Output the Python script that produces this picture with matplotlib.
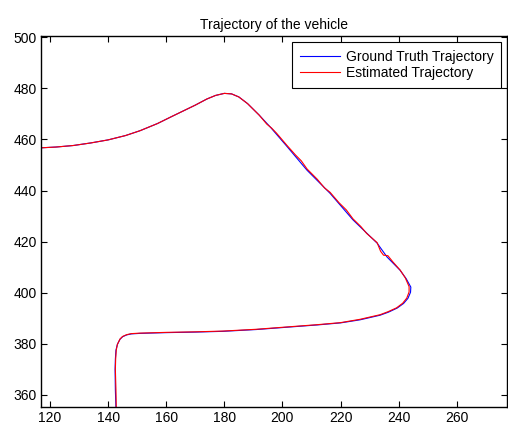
import matplotlib
matplotlib.use("Agg")
import matplotlib.pyplot as plt

plt.rcParams['font.family'] = ['Liberation Sans', 'DejaVu Sans']

# ground truth trajectory
gt_x = [116.9, 122, 128, 134, 140, 146, 151, 157, 162, 166, 170, 174, 177, 180,
        182.5, 185, 188, 192, 196, 201.6, 208.5, 216.4, 224.3, 232.6, 236, 240.5,
        242.6, 244.2, 244.1, 243.2, 241.7, 239.5, 236.5, 233.6, 226.7, 220, 212,
        202.6, 191, 179.5, 170, 160.3, 151, 148, 146.4, 145, 144.1, 143.2, 142.7,
        142.5, 142.4, 142.5, 142.7]
gt_y = [456.7, 457.0, 457.6, 458.6, 459.8, 461.5, 463.4, 466.2, 469.0, 471.2, 473.4,
        475.8, 477.2, 478.0, 477.8, 476.6, 474.0, 469.5, 464.6, 457.2, 447.9, 438.9,
        428.5, 419.4, 414.0, 408.8, 405.5, 402.2, 400.2, 397.8, 395.8, 394.0, 392.4,
        391.2, 389.4, 388.2, 387.4, 386.6, 385.6, 384.9, 384.6, 384.4, 384.1, 383.9,
        383.5, 382.8, 381.8, 379.8, 377.5, 374.0, 370.0, 362.0, 355.0]

# estimated trajectory (follows the ground truth with small wiggles on the diagonal)
est_x = [116.9, 122, 128, 134, 140, 146, 151, 157, 162, 166, 170, 174, 177, 180,
         182.5, 185, 188, 192, 194.6, 196.3, 198, 201.6, 204.5, 206.5, 208.5, 212,
         214.5, 216.4, 219.5, 222, 224.3, 227, 229, 232.6, 233.8, 234.8, 236.3, 238,
         240.5, 242.3, 243.6, 243.6, 242.8, 241.4, 239.3, 236.4, 233.6, 226.7, 220,
         212, 202.6, 191, 179.5, 170, 160.3, 151, 148, 146.4, 145, 144.1, 143.2,
         142.8, 142.6, 142.5, 142.7, 142.8]
est_y = [456.7, 457.0, 457.6, 458.6, 459.8, 461.5, 463.4, 466.2, 469.0, 471.2, 473.4,
         475.8, 477.2, 478.0, 477.8, 476.6, 474.0, 469.5, 466.0, 464.4, 462.4, 457.6,
         453.9, 451.6, 448.4, 444.4, 441.0, 439.3, 435.2, 432.4, 428.9, 425.9, 423.2,
         419.6, 416.2, 414.7, 414.5, 412.1, 408.9, 405.8, 402.4, 400.3, 397.9, 395.9,
         394.1, 392.6, 391.4, 389.6, 388.3, 387.5, 386.7, 385.7, 385.0, 384.7, 384.5,
         384.2, 384.0, 383.6, 382.9, 381.9, 379.8, 377.5, 374.0, 370.0, 362.0, 355.0]

title = "Trajectory of the vehicle"
labels = ["Ground Truth Trajectory", "Estimated Trajectory"]
x_ticks = [120, 140, 160, 180, 200, 220, 240, 260]
y_ticks = [360, 380, 400, 420, 440, 460, 480, 500]

fig = plt.figure(figsize=(5.08, 4.28), dpi=100)
ax = fig.add_axes([0.0807, 0.0497, 0.9173, 0.8653])

ax.plot(gt_x, gt_y, color="#0000ff", linewidth=0.8, label=labels[0])
ax.plot(est_x, est_y, color="#ff0000", linewidth=0.8, label=labels[1])

ax.set_xlim(116.9, 277.3)
ax.set_ylim(355.4, 500.3)
ax.set_xticks(x_ticks)
ax.set_yticks(y_ticks)
ax.tick_params(direction="in", top=True, right=True, length=4, width=0.8,
               labelsize=10, colors="black", pad=3)
for s in ax.spines.values():
    s.set_linewidth(1.0)

ax.set_title(title, fontsize=10, pad=5)

leg = ax.legend(loc="upper right", fontsize=10, handlelength=2.9, handletextpad=0.45,
                borderpad=0.55, labelspacing=0.2, fancybox=False, framealpha=1,
                edgecolor="black", borderaxespad=0.4)
leg.get_frame().set_linewidth(0.8)

fig.savefig("out.png", dpi=100)
